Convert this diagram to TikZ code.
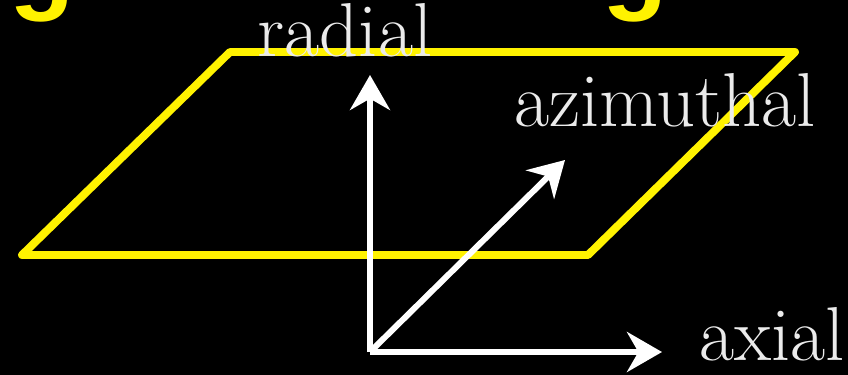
\documentclass[tikz,border=0pt]{standalone}
\usepackage{fontspec}
\newfontfamily\titlefont{Liberation Sans}
\usepackage{tikz}
\usetikzlibrary{arrows.meta}

\begin{document}
\begin{tikzpicture}[
    x=0.02cm, y=-0.02cm,
    plane/.style={draw=yellow, line width=4.5pt, line join=round},
    vec/.style={draw=white, line width=3.4pt,
      -{Stealth[length=0.7cm, width=0.8cm]}},
    lbl/.style={anchor=base, inner sep=0pt, text=white!92!black,
      font=\fontsize{43.5}{50}\selectfont},
    ttl/.style={anchor=base west, inner sep=0pt, text=yellow,
      font=\titlefont\bfseries\fontsize{61}{70}\selectfont}
  ]
    \fill[black] (0,0) rectangle (848,375);
    \useasboundingbox (0,0) rectangle (848,375);

    % cut-off title letters
    \node[ttl] (g1) at (9,0)   {g};
    \node[ttl] (g2) at (602,0) {g};

    % plane
    \coordinate (pa) at (22,255);
    \coordinate (pb) at (588,255);
    \coordinate (pc) at (795,52);
    \coordinate (pd) at (230,52);
    \draw[plane] (pa) -- (pb) -- (pc) -- (pd) -- cycle;

    % directions
    \coordinate (o) at (370,352);
    \coordinate (rad) at (370,75);
    \coordinate (azi) at (565,160);
    \coordinate (axi) at (662,352);
    \foreach \t in {rad, azi, axi} {
      \draw[vec] (o) -- (\t);
    }

    \node[lbl] (lrad) at (345,57)  {radial};
    \node[lbl] (lazi) at (665,127) {azimuthal};
    \node[lbl] (laxi) at (772,360) {axial};
\end{tikzpicture}
\end{document}
